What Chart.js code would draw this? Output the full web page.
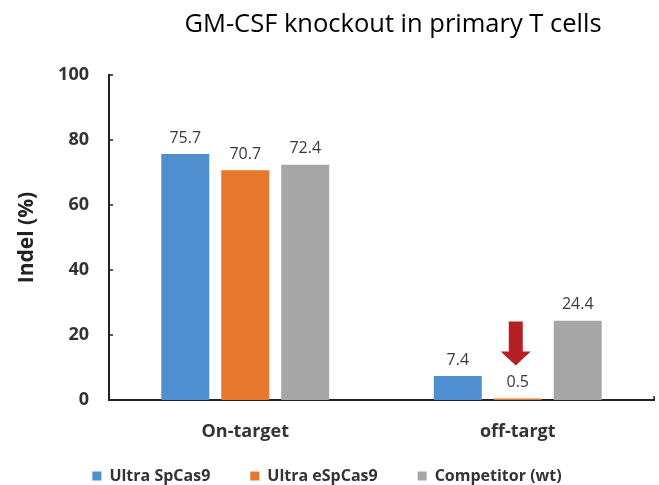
<!DOCTYPE html>
<html>
<head>
<meta charset="utf-8">
<script src="https://cdn.jsdelivr.net/npm/chart.js@4/dist/chart.umd.min.js"></script>
<style>
  html, body { margin: 0; padding: 0; background: #fff; }
  #wrap { width: 659px; height: 485px; }
</style>
</head>
<body>
<div id="wrap"><canvas id="myChart1" width="659" height="485"></canvas></div>
<script>
const ctx = document.getElementById("myChart1").getContext("2d");

const titleText = "GM-CSF knockout in primary T cells";
const labels = ["On-target", "off-targt"];
const seriesNames = ["Ultra SpCas9", "Ultra eSpCas9", "Competitor (wt)"];
const ultraSp = [75.7, 7.4];
const ultraESp = [70.7, 0.5];
const competitor = [72.4, 24.4];
const yTicks = [0, 20, 40, 60, 80, 100];
const colors = ["#4f8fcf", "#e8772e", "#a6a6a6"];

const FONT = "'Open Sans', 'Liberation Sans', sans-serif";

// title drawn centred over the plot, a bit right of the canvas centre
const titlePlugin = {
  id: "topTitle",
  afterDraw(chart) {
    const c = chart.ctx;
    c.save();
    c.font = "25.5px " + FONT;
    c.fillStyle = "#000";
    c.textAlign = "center";
    c.textBaseline = "middle";
    c.fillText(titleText, 393, 25);
    c.restore();
  },
};

// value labels above each bar and the red arrow over the tiny eSpCas9 off-target bar
const valuePlugin = {
  id: "values",
  afterDatasetsDraw(chart) {
    const c = chart.ctx;
    c.save();
    c.font = "16px " + FONT;
    c.fillStyle = "#3a3a3a";
    c.textAlign = "center";
    c.textBaseline = "bottom";
    chart.data.datasets.forEach((ds, i) => {
      chart.getDatasetMeta(i).data.forEach((bar, j) => {
        c.fillText(ds.data[j].toFixed(1), bar.x, bar.y - 8);
      });
    });
    const arrowBar = chart.getDatasetMeta(1).data[1];
    const x = arrowBar.x - 2;
    const tip = arrowBar.y - 33;
    c.fillStyle = "#b41f26";
    c.beginPath();
    c.moveTo(x - 7, tip - 44);
    c.lineTo(x + 7, tip - 44);
    c.lineTo(x + 7, tip - 14);
    c.lineTo(x + 15, tip - 14);
    c.lineTo(x, tip);
    c.lineTo(x - 15, tip - 14);
    c.lineTo(x - 7, tip - 14);
    c.closePath();
    c.fill();
    c.restore();
  },
};

// short inward tick marks on the y axis and the end tick on the x axis;
// also keeps the legend compact while its items stay widely spaced
const tickPlugin = {
  id: "innerTicks",
  beforeInit(chart) {
    const legend = chart.legend;
    if (legend) {
      const fit = legend.fit;
      legend.fit = function () {
        fit.call(this);
        this.height = 41;
      };
    }
  },
  afterLayout(chart) {
    const legend = chart.legend;
    if (legend) {
      // grow the legend box upwards so its row sits under the axis labels
      legend.top -= 16;
      legend.height = legend.bottom - legend.top;
    }
  },
  afterDraw(chart) {
    const c = chart.ctx;
    const y = chart.scales.y;
    const area = chart.chartArea;
    c.save();
    c.strokeStyle = "#222";
    c.lineWidth = 1.5;
    c.beginPath();
    yTicks.forEach((v) => {
      if (v === 0) return;
      const py = y.getPixelForValue(v);
      c.moveTo(area.left, py);
      c.lineTo(area.left + 4, py);
    });
    c.moveTo(area.right, area.bottom);
    c.lineTo(area.right, area.bottom - 4);
    c.stroke();
    c.restore();
  },
};

const data = {
  labels: labels,
  datasets: [
    { label: seriesNames[0], data: ultraSp, backgroundColor: colors[0] },
    { label: seriesNames[1], data: ultraESp, backgroundColor: colors[1] },
    { label: seriesNames[2], data: competitor, backgroundColor: colors[2] },
  ],
};

const config = {
  type: "bar",
  data: data,
  options: {
    responsive: false,
    animation: false,
    categoryPercentage: 0.66,
    barPercentage: 0.8,
    layout: { padding: { top: 75, right: 5, bottom: 0, left: 0 } },
    plugins: {
      title: { display: false },
      tooltip: { enabled: false },
      legend: {
        position: "bottom",
        labels: {
          boxWidth: 9,
          boxHeight: 9,
          padding: 40,
          color: "#333",
          font: { family: FONT, size: 16, weight: "bold" },
        },
      },
    },
    scales: {
      x: {
        afterFit(scale) {
          scale.height = 44;
        },
        grid: { display: false, drawTicks: false },
        border: { display: true, color: "#222", width: 2 },
        ticks: {
          color: "#333",
          padding: 21,
          font: { family: FONT, size: 18, weight: "bold" },
        },
      },
      y: {
        min: 0,
        max: 100,
        afterBuildTicks(scale) {
          scale.ticks = yTicks.map((v) => ({ value: v }));
        },
        afterFit(scale) {
          scale.width = 109;
        },
        grid: { display: false, drawTicks: false },
        border: { display: true, color: "#222", width: 2 },
        ticks: {
          color: "#333",
          padding: 20,
          font: { family: FONT, size: 18, weight: "bold" },
        },
        title: {
          display: true,
          text: "Indel (%)",
          color: "#222",
          padding: { top: 14, bottom: 0 },
          font: { family: FONT, size: 21, weight: "bold" },
        },
      },
    },
  },
  plugins: [titlePlugin, valuePlugin, tickPlugin],
};

const myChart1 = new Chart(ctx, config);
</script>
</body>
</html>
